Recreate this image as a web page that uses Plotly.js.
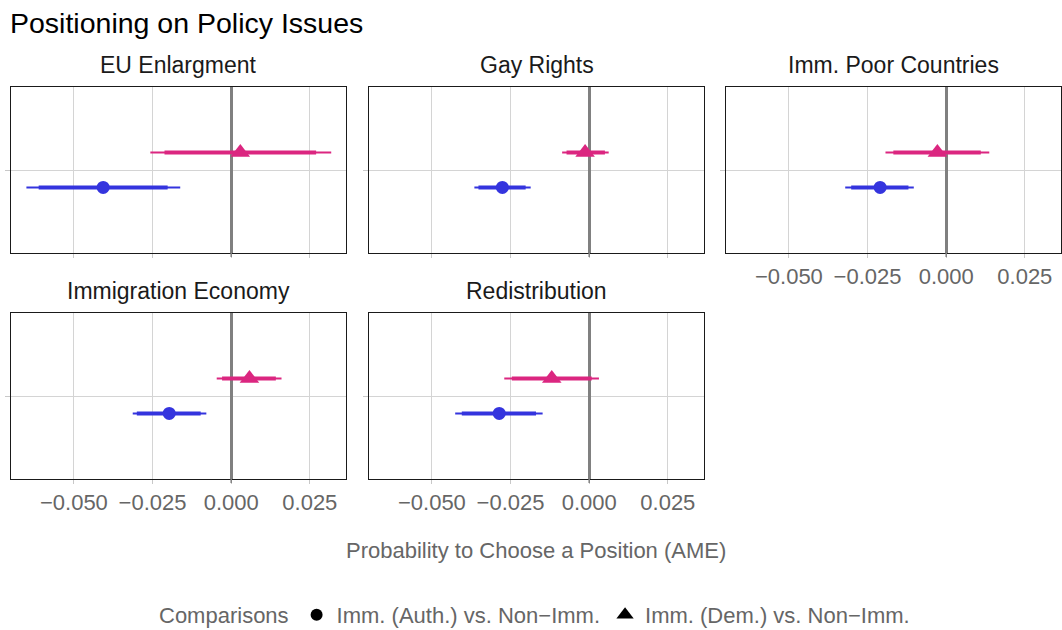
<!DOCTYPE html>
<html>
<head>
<meta charset="utf-8">
<script src="https://cdn.plot.ly/plotly-3.0.1.min.js"></script>
<style>html,body{margin:0;padding:0;background:#fff;}#chart{width:1062px;height:630px;}</style>
</head>
<body>
<div id="chart"></div>
<script>
// ---- data ----
var issues = ['EU Enlargment', 'Gay Rights', 'Imm. Poor Countries', 'Immigration Economy', 'Redistribution'];
var seriesNames = ['Imm. (Auth.) vs. Non\u2212Imm.', 'Imm. (Dem.) vs. Non\u2212Imm.'];

var authEst  = [-0.0407, -0.0276, -0.0210, -0.0197, -0.0286];
var authLo95 = [-0.0651, -0.0365, -0.0321, -0.0313, -0.0426];
var authHi95 = [-0.0162, -0.0186, -0.0103, -0.0079, -0.0148];
var authLo90 = [-0.0612, -0.0352, -0.0302, -0.0300, -0.0405];
var authHi90 = [-0.0202, -0.0202, -0.0120, -0.0097, -0.0169];

var demEst  = [0.0029, -0.0013, -0.0028, 0.0058, -0.0119];
var demLo95 = [-0.0257, -0.0086, -0.0193, -0.0046, -0.0270];
var demHi95 = [0.0318, 0.0062, 0.0137, 0.0160, 0.0031];
var demLo90 = [-0.0212, -0.0072, -0.0168, -0.0029, -0.0246];
var demHi90 = [0.0270, 0.0050, 0.0110, 0.0142, 0.0008];

var xTickVals = [-0.05, -0.025, 0, 0.025];

// ---- styling / layout ----
var W = 1062, H = 630;
var FONT = 'Liberation Sans, Arial, sans-serif';
var BLUE = '#3434DE', PINK = '#DB2680';
var colPx = [[11, 346], [369, 704], [726, 1061]];
var rowPx = [[87, 253], [313, 479]];
var panelPos = [[0, 0], [0, 1], [0, 2], [1, 0], [1, 1]];
var showLabels = [false, false, true, true, true];
var xRange = [-0.0700, 0.0365];
var yCat = 1, dodge = 0.126;

var series = [
  {est: authEst, lo95: authLo95, hi95: authHi95, lo90: authLo90, hi90: authHi90, color: BLUE, symbol: 'circle', size: 13, off: -dodge},
  {est: demEst, lo95: demLo95, hi95: demHi95, lo90: demLo90, hi90: demHi90, color: PINK, symbol: 'triangle-up', size: 17, off: dodge}
];

var traces = [];
var layout = {
  width: W, height: H,
  margin: {l: 0, r: 0, t: 0, b: 0, autoexpand: false},
  paper_bgcolor: '#fff', plot_bgcolor: '#fff',
  font: {family: FONT, color: '#333'},
  showlegend: true,
  title: {text: 'Positioning on Policy Issues', x: 10 / W, xanchor: 'left', xref: 'paper',
          y: 1 - 23 / H, yanchor: 'middle', yref: 'paper',
          font: {family: FONT, size: 28.5, color: '#000'}},
  annotations: [],
  shapes: [],
  legend: {orientation: 'h', x: 536 / W, xanchor: 'center', y: 1 - 615 / H, yanchor: 'middle',
           font: {family: FONT, size: 22, color: '#666'},
           title: {text: 'Comparisons', side: 'left', font: {family: FONT, size: 22, color: '#666'}},
           bgcolor: 'rgba(0,0,0,0)', itemwidth: 30, tracegroupgap: 0}
};

issues.forEach(function (issue, i) {
  var r = panelPos[i][0], c = panelPos[i][1];
  var sfx = i === 0 ? '' : String(i + 1);
  var xa = 'x' + sfx, ya = 'y' + sfx;
  layout['xaxis' + sfx] = {
    domain: [colPx[c][0] / W, colPx[c][1] / W],
    anchor: ya, range: xRange, fixedrange: true,
    tickvals: xTickVals, tickformat: '.3f',
    showticklabels: showLabels[i],
    tickfont: {family: FONT, size: 22, color: '#666'},
    ticks: 'outside', ticklen: 4, tickcolor: '#c8c8c8', tickwidth: 1,
    showgrid: true, gridcolor: '#d4d4d4', gridwidth: 1,
    zeroline: true, zerolinecolor: '#808080', zerolinewidth: 3,
    showline: true, mirror: true, linecolor: '#1a1a1a', linewidth: 1
  };
  layout['yaxis' + sfx] = {
    domain: [1 - rowPx[r][1] / H, 1 - rowPx[r][0] / H],
    anchor: xa, range: [yCat - 0.6, yCat + 0.6], fixedrange: true,
    tickvals: [yCat], ticktext: [''],
    ticks: 'outside', ticklen: 5, tickcolor: '#c8c8c8', tickwidth: 1,
    showgrid: true, gridcolor: '#d4d4d4', gridwidth: 1,
    zeroline: false,
    showline: true, mirror: true, linecolor: '#1a1a1a', linewidth: 1
  };
  layout.annotations.push({
    text: issue, xref: 'paper', yref: 'paper',
    x: (colPx[c][0] + colPx[c][1]) / 2 / W, xanchor: 'center',
    y: 1 - (rowPx[r][0] - 22) / H, yanchor: 'middle',
    showarrow: false, font: {family: FONT, size: 23, color: '#1a1a1a'}
  });
  // the zero tick below each panel is drawn in the darker zero-line grey
  layout.shapes.push({type: 'line', xref: xa, yref: 'paper', x0: 0, x1: 0,
    y0: 1 - rowPx[r][1] / H, y1: 1 - (rowPx[r][1] + 4) / H,
    line: {color: '#808080', width: 1.5}});

  series.forEach(function (s) {
    var yy = yCat + s.off;
    traces.push({type: 'scatter', mode: 'lines', xaxis: xa, yaxis: ya, showlegend: false, hoverinfo: 'skip',
      x: [s.lo95[i], s.hi95[i]], y: [yy, yy], line: {color: s.color, width: 2}});
    traces.push({type: 'scatter', mode: 'lines', xaxis: xa, yaxis: ya, showlegend: false, hoverinfo: 'skip',
      x: [s.lo90[i], s.hi90[i]], y: [yy, yy], line: {color: s.color, width: 4}});
    traces.push({type: 'scatter', mode: 'markers', xaxis: xa, yaxis: ya, showlegend: false,
      x: [s.est[i]], y: [yy], marker: {color: s.color, symbol: s.symbol, size: s.size, line: {width: 0}}});
  });
});

// legend entries (black symbols, as in the reference)
series.forEach(function (s, k) {
  traces.push({type: 'scatter', mode: 'markers', name: seriesNames[k], xaxis: 'x', yaxis: 'y',
    x: [null], y: [null], showlegend: true,
    marker: {color: '#000', symbol: s.symbol, size: k === 0 ? 12 : 15}});
});

// shared x-axis title
layout.annotations.push({
  text: 'Probability to Choose a Position (AME)', xref: 'paper', yref: 'paper',
  x: 536 / W, xanchor: 'center', y: 1 - 550 / H, yanchor: 'middle', showarrow: false,
  font: {family: FONT, size: 22, color: '#666'}
});

Plotly.newPlot('chart', traces, layout, {staticPlot: true, displayModeBar: false});
</script>
</body>
</html>
